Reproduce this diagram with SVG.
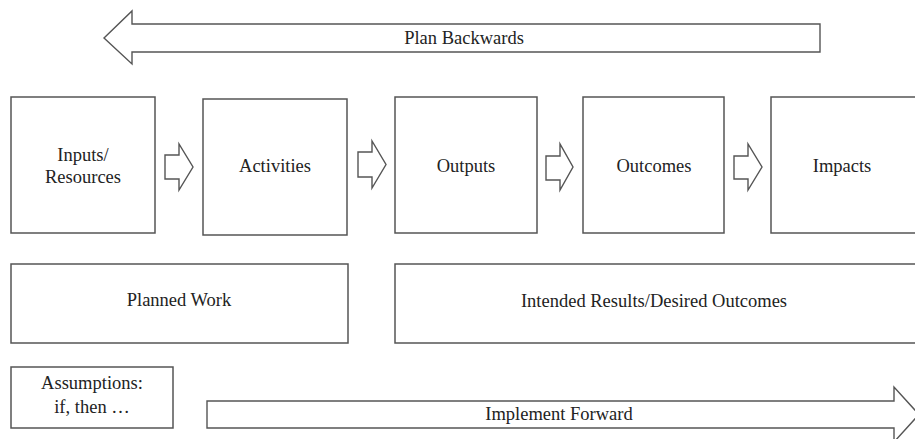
<svg xmlns="http://www.w3.org/2000/svg" width="915" height="439" viewBox="0 0 915 439">
  <style>
    .box { fill: #ffffff; stroke: #555555; stroke-width: 1.5; }
    .arr { fill: #ffffff; stroke: #555555; stroke-width: 1.4; stroke-linejoin: miter; }
    .lbl { font-family: "Liberation Serif", "Times New Roman", serif; font-size: 18.5px; fill: #222222; text-anchor: middle; }
  </style>
  <rect width="915" height="439" fill="#ffffff"/>

  <!-- direction arrows -->
  <g id="plan-backwards">
    <polygon class="arr" points="820,24 132,24 132,11 104,38 132,64 132,52 820,52"/>
    <text class="lbl" x="464" y="44">Plan Backwards</text>
  </g>
  <g id="implement-forward">
    <polygon class="arr" points="207,401 894,401 894,387 919,414.5 894,442 894,428 207,428"/>
    <text class="lbl" x="559" y="420">Implement Forward</text>
  </g>

  <!-- chain of stages -->
  <g id="inputs">
    <rect class="box" x="11" y="97" width="144" height="136"/>
    <text class="lbl" x="83" y="161">Inputs/</text>
    <text class="lbl" x="83" y="183">Resources</text>
  </g>
  <g id="activities">
    <rect class="box" x="203" y="99" width="144" height="136"/>
    <text class="lbl" x="275" y="172">Activities</text>
  </g>
  <g id="outputs">
    <rect class="box" x="395" y="97" width="142" height="136"/>
    <text class="lbl" x="466" y="172">Outputs</text>
  </g>
  <g id="outcomes">
    <rect class="box" x="583" y="97" width="141" height="136"/>
    <text class="lbl" x="654" y="172">Outcomes</text>
  </g>
  <g id="impacts">
    <rect class="box" x="771" y="97" width="150" height="136"/>
    <text class="lbl" x="842" y="172">Impacts</text>
  </g>

  <!-- block arrows between stages -->
  <g id="connectors">
    <polygon class="arr" points="165,155 179,155 179,144 193,167 179,190 179,179 165,179"/>
    <polygon class="arr" points="358,152 372,152 372,141 386,164.5 372,188 372,177 358,177"/>
    <polygon class="arr" points="546,156 560,156 560,144 573,167 560,190 560,180 546,180"/>
    <polygon class="arr" points="734,156 748,156 748,144 762,167 748,190 748,179 734,179"/>
  </g>

  <!-- groupings -->
  <g id="planned-work">
    <rect class="box" x="11" y="264" width="337" height="79"/>
    <text class="lbl" x="179" y="306">Planned Work</text>
  </g>
  <g id="intended-results">
    <rect class="box" x="395" y="264" width="526" height="79"/>
    <text class="lbl" x="654" y="307">Intended Results/Desired Outcomes</text>
  </g>
  <g id="assumptions">
    <rect class="box" x="11" y="367" width="162" height="61"/>
    <text class="lbl" x="92" y="389">Assumptions:</text>
    <text class="lbl" x="92" y="413">if, then …</text>
  </g>
</svg>
